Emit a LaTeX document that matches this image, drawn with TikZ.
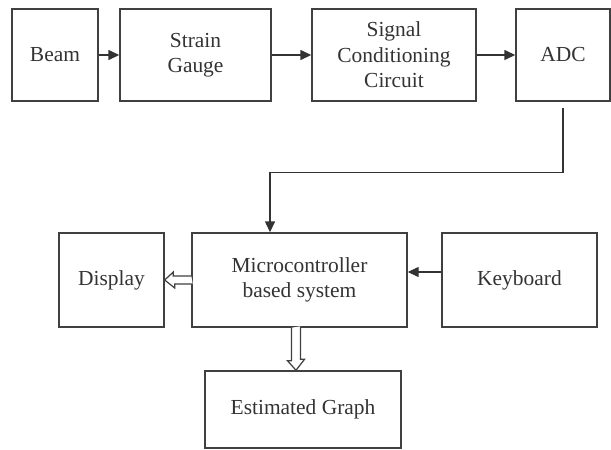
\documentclass[tikz,border=0pt]{standalone}
\usepackage{fontspec}
\setmainfont{Liberation Serif}
\usetikzlibrary{arrows.meta}

\tikzset{
    block/.style={draw=black!75,line width=0.8pt,text=black!80,align=center,
        inner sep=0pt,minimum height=1.84cm,
        font=\fontsize{12.2}{14.5}\selectfont},
    link/.style={draw=black!80,line width=0.8pt,-{Triangle[length=0.22cm,width=0.2cm]}},
    hollow/.style={draw=black!75,line width=0.7pt,fill=white}
}

\begin{document}
\begin{tikzpicture}
        \useasboundingbox (0,0) rectangle (12.22,-8.98);
        \node[block,minimum width=1.72cm] (beam) at (1.10,-1.10) {Beam};
        \node[block,minimum width=3.02cm] (strain) at (3.91,-1.10) {Strain\\Gauge};
        \node[block,minimum width=3.28cm] (signal) at (7.88,-1.10) {Signal\\Conditioning\\Circuit};
        \node[block,minimum width=1.88cm] (adc) at (11.26,-1.10) {ADC};
        \node[block,minimum width=2.10cm,minimum height=1.88cm] (disp) at (2.23,-5.60) {Display};
        \node[block,minimum width=4.30cm,minimum height=1.88cm] (micro) at (5.99,-5.60) {Microcontroller\\based system};
        \node[block,minimum width=3.10cm,minimum height=1.88cm] (kbd) at (10.39,-5.60) {Keyboard};
        \node[block,minimum width=3.92cm,minimum height=1.54cm] (graph) at (6.06,-8.19) {Estimated Graph};

        \draw[link] (beam) -- (strain);
        \draw[link] (strain) -- (signal);
        \draw[link] (signal) -- (adc);
        \draw[link] ([yshift=-0.12cm]adc.south)
            |- ([xshift=-0.59cm,yshift=1.20cm]micro.north)
            -- ([xshift=-0.59cm]micro.north);
        \draw[link] ([yshift=0.16cm]kbd.west) -- ([yshift=0.16cm]micro.east);

        % open arrows out of the microcontroller
        \draw[hollow] ([yshift=0.08cm]micro.west)
            -- ++(-0.36,0) -- ++(0,0.08) -- (disp.east)
            -- ++(0.2,-0.16) -- ++(0,0.08) -- ++(0.36,0);
        \draw[hollow] ([xshift=-0.16cm]micro.south)
            -- ++(0,-0.66) -- ++(-0.08,0) -- ([xshift=-0.14cm]graph.north)
            -- ++(0.17,0.22) -- ++(-0.08,0) -- ++(0,0.66);
\end{tikzpicture}
\end{document}
